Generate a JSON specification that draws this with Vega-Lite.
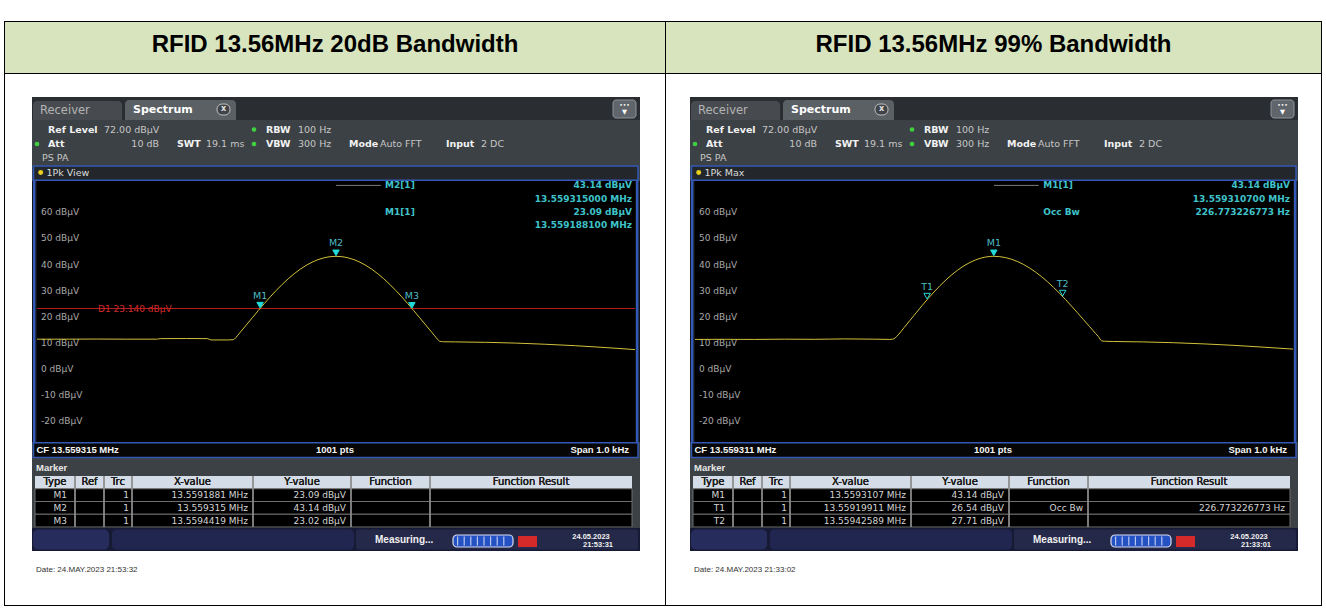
{
"$schema":"https://vega.github.io/schema/vega-lite/v6.json",
"padding":{"left":4,"top":21,"right":4,"bottom":2},
"background":"#ffffff",
"config":{"view":{"stroke":null},"text":{"font":"DejaVu Sans"}},
"datasets":{
"traceA":[{"f":13.558815,"v":11.4},{"f":13.558865,"v":11.4},{"f":13.558915,"v":11.45},{"f":13.558965,"v":11.4},{"f":13.559015,"v":11.4},{"f":13.559021,"v":11.6},{"f":13.559065,"v":11.65},{"f":13.5591,"v":11.6},{"f":13.559106,"v":11.1},{"f":13.559135,"v":11.1},{"f":13.559143,"v":11.2},{"f":13.559145,"v":11.4},{"f":13.55915,"v":12.7},{"f":13.559155,"v":14.08},{"f":13.559165,"v":16.83},{"f":13.559175,"v":19.59},{"f":13.559185,"v":22.33},{"f":13.559195,"v":25.01},{"f":13.559205,"v":27.6},{"f":13.559215,"v":30.06},{"f":13.559225,"v":32.38},{"f":13.559235,"v":34.52},{"f":13.559245,"v":36.45},{"f":13.559255,"v":38.18},{"f":13.559265,"v":39.66},{"f":13.559275,"v":40.9},{"f":13.559285,"v":41.87},{"f":13.559295,"v":42.57},{"f":13.559305,"v":43.0},{"f":13.559315,"v":43.14},{"f":13.559325,"v":43.0},{"f":13.559335,"v":42.57},{"f":13.559345,"v":41.87},{"f":13.559355,"v":40.9},{"f":13.559365,"v":39.66},{"f":13.559375,"v":38.18},{"f":13.559385,"v":36.45},{"f":13.559395,"v":34.52},{"f":13.559405,"v":32.38},{"f":13.559415,"v":30.06},{"f":13.559425,"v":27.6},{"f":13.559435,"v":25.01},{"f":13.559445,"v":22.33},{"f":13.559455,"v":19.59},{"f":13.559465,"v":16.83},{"f":13.559475,"v":14.08},{"f":13.55948,"v":12.7},{"f":13.559485,"v":11.3},{"f":13.559488,"v":10.6},{"f":13.559495,"v":10.4},{"f":13.559515,"v":10.35},{"f":13.559565,"v":10.2},{"f":13.559615,"v":9.9},{"f":13.559665,"v":9.45},{"f":13.559715,"v":8.9},{"f":13.559765,"v":8.2},{"f":13.559815,"v":7.4}],
"traceB":[{"f":13.558811,"v":11.3},{"f":13.5588607,"v":11.35},{"f":13.5589107,"v":11.3},{"f":13.5589607,"v":11.4},{"f":13.5590107,"v":11.35},{"f":13.5590607,"v":11.5},{"f":13.5591107,"v":11.4},{"f":13.5591357,"v":11.3},{"f":13.5591417,"v":11.4},{"f":13.5591457,"v":11.9},{"f":13.5591507,"v":13.03},{"f":13.5591607,"v":15.83},{"f":13.5591707,"v":18.65},{"f":13.5591807,"v":21.47},{"f":13.5591907,"v":24.24},{"f":13.5592007,"v":26.92},{"f":13.5592107,"v":29.48},{"f":13.5592207,"v":31.89},{"f":13.5592307,"v":34.12},{"f":13.5592407,"v":36.14},{"f":13.5592507,"v":37.94},{"f":13.5592607,"v":39.5},{"f":13.5592707,"v":40.79},{"f":13.5592807,"v":41.81},{"f":13.5592907,"v":42.55},{"f":13.5593007,"v":42.99},{"f":13.5593107,"v":43.14},{"f":13.5593207,"v":43.01},{"f":13.5593307,"v":42.63},{"f":13.5593407,"v":41.99},{"f":13.5593507,"v":41.11},{"f":13.5593607,"v":39.99},{"f":13.5593707,"v":38.64},{"f":13.5593807,"v":37.07},{"f":13.5593907,"v":35.31},{"f":13.5594007,"v":33.35},{"f":13.5594107,"v":31.22},{"f":13.5594207,"v":28.95},{"f":13.5594307,"v":26.56},{"f":13.5594407,"v":24.05},{"f":13.5594507,"v":21.49},{"f":13.5594607,"v":18.87},{"f":13.5594707,"v":16.25},{"f":13.5594807,"v":13.64},{"f":13.5594857,"v":12.35},{"f":13.5594907,"v":10.8},{"f":13.5594957,"v":10.6},{"f":13.5595107,"v":10.5},{"f":13.5595607,"v":10.35},{"f":13.5596107,"v":10.05},{"f":13.5596607,"v":9.6},{"f":13.5597107,"v":9.05},{"f":13.5597607,"v":8.35},{"f":13.559811,"v":7.6}],
"markersA":[{"m":"M1","k":"M","f":13.5591881,"v":23.09},{"m":"M2","k":"M","f":13.559315,"v":43.14},{"m":"M3","k":"M","f":13.5594419,"v":23.02}],
"markersB":[{"m":"M1","k":"M","f":13.5593107,"v":43.14},{"m":"T1","k":"T","f":13.55919911,"v":26.54},{"m":"T2","k":"T","f":13.55942589,"v":27.71}],
"ylabels":[{"v":60,"t":"60 dBµV"},{"v":50,"t":"50 dBµV"},{"v":40,"t":"40 dBµV"},{"v":30,"t":"30 dBµV"},{"v":20,"t":"20 dBµV"},{"v":10,"t":"10 dBµV"},{"v":0,"t":"0 dBµV"},{"v":-10,"t":"-10 dBµV"},{"v":-20,"t":"-20 dBµV"}],
"readoutA":[{"line":1,"name":"M2[1]","val":"43.14 dBµV"},{"line":2,"name":"","val":"13.559315000 MHz"},{"line":3,"name":"M1[1]","val":"23.09 dBµV"},{"line":4,"name":"","val":"13.559188100 MHz"}],
"readoutB":[{"line":1,"name":"M1[1]","val":"43.14 dBµV"},{"line":2,"name":"","val":"13.559310700 MHz"},{"line":3,"name":"Occ Bw","val":"226.773226773 Hz"}],
"tableA":[{"r":"1","Type":"M1","Trc":"1","X":"13.5591881 MHz","Y":"23.09 dBµV","Fn":"","Res":""},{"r":"2","Type":"M2","Trc":"1","X":"13.559315 MHz","Y":"43.14 dBµV","Fn":"","Res":""},{"r":"3","Type":"M3","Trc":"1","X":"13.5594419 MHz","Y":"23.02 dBµV","Fn":"","Res":""}],
"tableB":[{"r":"1","Type":"M1","Trc":"1","X":"13.5593107 MHz","Y":"43.14 dBµV","Fn":"","Res":""},{"r":"2","Type":"T1","Trc":"1","X":"13.55919911 MHz","Y":"26.54 dBµV","Fn":"Occ Bw","Res":"226.773226773 Hz"},{"r":"3","Type":"T2","Trc":"1","X":"13.55942589 MHz","Y":"27.71 dBµV","Fn":"","Res":""}]
},
"spacing":0,
"vconcat":[
{"width":1318,"height":1,"view":{"fill":"#000000"},"data":{"values":[{}]},"mark":{"type":"text","text":"","fontSize":1,"clip":true}},
{"spacing":0,"hconcat":[
{"width":1,"height":583,"view":{"fill":"#000000"},"data":{"values":[{}]},"mark":{"type":"text","text":"","fontSize":1,"clip":true}},
{"spacing":0,"vconcat":[
{"width":660,"height":51,"view":{"fill":"#d7e4bd"},"data":{"values":[{"t":"RFID 13.56MHz 20dB Bandwidth"}]},"mark":{"type":"text","font":"Liberation Sans","fontWeight":"bold","fontSize":24,"fill":"#000000","dy":-3},"encoding":{"text":{"field":"t"}}},
{"width":660,"height":1,"view":{"fill":"#000000"},"data":{"values":[{}]},"mark":{"type":"text","text":"","fontSize":1,"clip":true}},
{"spacing":0,"hconcat":[
{"width":27,"height":531,"data":{"values":[{}]},"mark":{"type":"text","text":"","fontSize":1,"clip":true}},
{"spacing":0,"vconcat":[
{"width":608,"height":23,"data":{"values":[{}]},"mark":{"type":"text","text":"","fontSize":1,"clip":true}},
{"width":608,"height":23,"view":{"fill":"#2a2d31"},"data":{"values":[{}]},"layer":[
{"mark":{"type":"rect","fill":"#474b50","cornerRadiusTopLeft":4,"cornerRadiusTopRight":4},"encoding":{"x":{"datum":1,"type":"quantitative","scale":{"domain":[0,608],"nice":false,"zero":false},"axis":null},"x2":{"datum":90},"y":{"datum":4,"type":"quantitative","scale":{"domain":[0,23],"nice":false,"zero":false,"reverse":true},"axis":null},"y2":{"datum":23}}},
{"mark":{"type":"rect","fill":"#5b6065","cornerRadiusTopLeft":4,"cornerRadiusTopRight":4},"encoding":{"x":{"datum":93,"type":"quantitative","axis":null},"x2":{"datum":204},"y":{"datum":3,"type":"quantitative","axis":null},"y2":{"datum":23}}},
{"mark":{"type":"text","align":"left","fontSize":11.5,"fill":"#b4b4b4"},"encoding":{"x":{"datum":8,"type":"quantitative","axis":null},"y":{"datum":13.5,"type":"quantitative","axis":null},"text":{"value":"Receiver"}}},
{"mark":{"type":"text","align":"left","fontSize":11,"fontWeight":"bold","fill":"#ffffff"},"encoding":{"x":{"datum":101,"type":"quantitative","axis":null},"y":{"datum":13,"type":"quantitative","axis":null},"text":{"value":"Spectrum"}}},
{"mark":{"type":"rect","fill":"#404448","stroke":"#c0c0c0","strokeWidth":1,"cornerRadius":5},"encoding":{"x":{"datum":185,"type":"quantitative","axis":null},"x2":{"datum":198},"y":{"datum":7,"type":"quantitative","axis":null},"y2":{"datum":18}}},
{"mark":{"type":"text","fontSize":8,"fontWeight":"bold","fill":"#e0e0e0"},"encoding":{"x":{"datum":191.5,"type":"quantitative","axis":null},"y":{"datum":12.3,"type":"quantitative","axis":null},"text":{"value":"x"}}},
{"mark":{"type":"rect","fill":"#5f656b","stroke":"#8d949a","strokeWidth":1,"cornerRadius":3},"encoding":{"x":{"datum":581,"type":"quantitative","axis":null},"x2":{"datum":604},"y":{"datum":3,"type":"quantitative","axis":null},"y2":{"datum":21}}},
{"mark":{"type":"text","fontSize":6,"fill":"#ffffff"},"encoding":{"x":{"datum":592.5,"type":"quantitative","axis":null},"y":{"datum":8,"type":"quantitative","axis":null},"text":{"value":"•••"}}},
{"mark":{"type":"text","fontSize":6.5,"fill":"#ffffff"},"encoding":{"x":{"datum":592.5,"type":"quantitative","axis":null},"y":{"datum":15,"type":"quantitative","axis":null},"text":{"value":"▼"}}}
]},
{"width":608,"height":45,"view":{"fill":"#3c4145"},"data":{"values":[{}]},"layer":[
{"mark":{"type":"point","shape":"circle","filled":true,"fill":"#3fcf3f","size":22,"opacity":1},"encoding":{"x":{"datum":5,"type":"quantitative","scale":{"domain":[0,608],"nice":false,"zero":false},"axis":null},"y":{"datum":24,"type":"quantitative","scale":{"domain":[0,45],"nice":false,"zero":false,"reverse":true},"axis":null}}},
{"mark":{"type":"point","shape":"circle","filled":true,"fill":"#3fcf3f","size":22,"opacity":1},"encoding":{"x":{"datum":222,"type":"quantitative","axis":null},"y":{"datum":9.5,"type":"quantitative","axis":null}}},
{"mark":{"type":"point","shape":"circle","filled":true,"fill":"#3fcf3f","size":22,"opacity":1},"encoding":{"x":{"datum":222,"type":"quantitative","axis":null},"y":{"datum":24,"type":"quantitative","axis":null}}},
{"mark":{"type":"text","align":"left","fontSize":9.5,"fontWeight":"bold","fill":"#f2f2f2"},"encoding":{"x":{"datum":16,"type":"quantitative","axis":null},"y":{"datum":9.5,"type":"quantitative","axis":null},"text":{"value":"Ref Level"}}},
{"mark":{"type":"text","align":"left","fontSize":9.5,"fontWeight":"bold","fill":"#f2f2f2"},"encoding":{"x":{"datum":16,"type":"quantitative","axis":null},"y":{"datum":24,"type":"quantitative","axis":null},"text":{"value":"Att"}}},
{"mark":{"type":"text","align":"left","fontSize":9.5,"fontWeight":"bold","fill":"#f2f2f2"},"encoding":{"x":{"datum":145,"type":"quantitative","axis":null},"y":{"datum":24,"type":"quantitative","axis":null},"text":{"value":"SWT"}}},
{"mark":{"type":"text","align":"left","fontSize":9.5,"fontWeight":"bold","fill":"#f2f2f2"},"encoding":{"x":{"datum":234,"type":"quantitative","axis":null},"y":{"datum":9.5,"type":"quantitative","axis":null},"text":{"value":"RBW"}}},
{"mark":{"type":"text","align":"left","fontSize":9.5,"fontWeight":"bold","fill":"#f2f2f2"},"encoding":{"x":{"datum":234,"type":"quantitative","axis":null},"y":{"datum":24,"type":"quantitative","axis":null},"text":{"value":"VBW"}}},
{"mark":{"type":"text","align":"left","fontSize":9.5,"fontWeight":"bold","fill":"#f2f2f2"},"encoding":{"x":{"datum":317,"type":"quantitative","axis":null},"y":{"datum":24,"type":"quantitative","axis":null},"text":{"value":"Mode"}}},
{"mark":{"type":"text","align":"left","fontSize":9.5,"fontWeight":"bold","fill":"#f2f2f2"},"encoding":{"x":{"datum":414,"type":"quantitative","axis":null},"y":{"datum":24,"type":"quantitative","axis":null},"text":{"value":"Input"}}},
{"mark":{"type":"text","align":"left","fontSize":9.5,"fill":"#c6c6c6"},"encoding":{"x":{"datum":72,"type":"quantitative","axis":null},"y":{"datum":9.5,"type":"quantitative","axis":null},"text":{"value":"72.00 dBµV"}}},
{"mark":{"type":"text","align":"right","fontSize":9.5,"fill":"#c6c6c6"},"encoding":{"x":{"datum":127,"type":"quantitative","axis":null},"y":{"datum":24,"type":"quantitative","axis":null},"text":{"value":"10 dB"}}},
{"mark":{"type":"text","align":"left","fontSize":9.5,"fill":"#c6c6c6"},"encoding":{"x":{"datum":174,"type":"quantitative","axis":null},"y":{"datum":24,"type":"quantitative","axis":null},"text":{"value":"19.1 ms"}}},
{"mark":{"type":"text","align":"left","fontSize":9.5,"fill":"#c6c6c6"},"encoding":{"x":{"datum":266,"type":"quantitative","axis":null},"y":{"datum":9.5,"type":"quantitative","axis":null},"text":{"value":"100 Hz"}}},
{"mark":{"type":"text","align":"left","fontSize":9.5,"fill":"#c6c6c6"},"encoding":{"x":{"datum":266,"type":"quantitative","axis":null},"y":{"datum":24,"type":"quantitative","axis":null},"text":{"value":"300 Hz"}}},
{"mark":{"type":"text","align":"left","fontSize":9.5,"fill":"#c6c6c6"},"encoding":{"x":{"datum":348,"type":"quantitative","axis":null},"y":{"datum":24,"type":"quantitative","axis":null},"text":{"value":"Auto FFT"}}},
{"mark":{"type":"text","align":"left","fontSize":9.5,"fill":"#c6c6c6"},"encoding":{"x":{"datum":449,"type":"quantitative","axis":null},"y":{"datum":24,"type":"quantitative","axis":null},"text":{"value":"2 DC"}}},
{"mark":{"type":"text","align":"left","fontSize":9.5,"fill":"#c6c6c6"},"encoding":{"x":{"datum":10,"type":"quantitative","axis":null},"y":{"datum":37.5,"type":"quantitative","axis":null},"text":{"value":"PS PA"}}}
]},
{"width":608,"height":16,"view":{"fill":"#3c4145"},"data":{"values":[{"t":"1Pk View"}]},"layer":[
{"mark":{"type":"rect","fill":"#23272b","stroke":"#3358b5","strokeWidth":1.5},"encoding":{"x":{"datum":1.5,"type":"quantitative","scale":{"domain":[0,608],"nice":false,"zero":false},"axis":null},"x2":{"datum":606},"y":{"datum":1,"type":"quantitative","scale":{"domain":[0,16],"nice":false,"zero":false,"reverse":true},"axis":null},"y2":{"datum":15.2}}},
{"mark":{"type":"point","shape":"circle","filled":true,"fill":"#e8d21e","size":24,"opacity":1},"encoding":{"x":{"datum":8.7,"type":"quantitative","axis":null},"y":{"datum":7.5,"type":"quantitative","axis":null}}},
{"mark":{"type":"text","align":"left","fontSize":9.5,"fill":"#dcdcdc"},"encoding":{"x":{"datum":14.5,"type":"quantitative","axis":null},"y":{"datum":7.5,"type":"quantitative","axis":null},"text":{"field":"t"}}}
]},
{"spacing":0,"hconcat":[
{"width":5,"height":261,"view":{"fill":"#121416"},"data":{"values":[{}]},"mark":{"type":"rule","color":"#3358b5","strokeWidth":2.5,"clip":true},"encoding":{"x":{"datum":2.2,"type":"quantitative","scale":{"domain":[0,5],"nice":false,"zero":false},"axis":null}}},
{"width":598,"height":261,"view":{"fill":"#000000"},
"resolve":{"scale":{"y":"independent"}},
"layer":[
{"layer":[
{"data":{"values":[{}]},"mark":{"type":"rect","fill":"#000000","clip":true},"encoding":{
"x":{"datum":13.55939,"type":"quantitative","scale":{"domain":[13.558815,13.559815],"nice":false,"zero":false},"axis":{"grid":true,"values":[13.558915,13.559015,13.559115,13.559215,13.559315,13.559415,13.559515,13.559615,13.559715],"labels":false,"ticks":false,"domain":false,"title":null,"gridColor":"#7c7c7c","gridWidth":1,"gridOpacity":1}},
"x2":{"datum":13.559815},
"y":{"datum":51,"type":"quantitative","scale":{"domain":[-28,72],"nice":false,"zero":false},"axis":{"grid":true,"values":[-20,-10,0,10,20,30,40,50,60,71.8],"labels":false,"ticks":false,"domain":false,"title":null,"gridColor":"#7c7c7c","gridWidth":1,"gridOpacity":1}},
"y2":{"datum":72}}},
{"data":{"name":"ylabels"},"mark":{"type":"text","align":"left","fontSize":9,"fill":"#000000","stroke":"#000000","strokeWidth":4},"encoding":{"x":{"datum":13.5588217,"type":"quantitative","axis":null},"y":{"field":"v","type":"quantitative","axis":null},"text":{"field":"t"}}},
{"data":{"name":"ylabels"},"mark":{"type":"text","align":"left","fontSize":9,"fill":"#a9a9a9"},"encoding":{"x":{"datum":13.5588217,"type":"quantitative","axis":null},"y":{"field":"v","type":"quantitative","axis":null},"text":{"field":"t"}}},
{"data":{"values":[{}]},"mark":{"type":"rule","color":"#b41c1c","strokeWidth":1,"clip":true},"encoding":{"y":{"datum":23.14,"type":"quantitative","axis":null}}},
{"data":{"values":[{"t":"D1 23.140 dBµV"}]},"mark":{"type":"text","align":"left","fontSize":9,"fill":"#d42a2a"},"encoding":{"x":{"datum":13.558917,"type":"quantitative","axis":null},"y":{"datum":23.14,"type":"quantitative","axis":null},"text":{"field":"t"}}},
{"data":{"name":"traceA"},"mark":{"type":"line","color":"#d2c13b","strokeWidth":1,"interpolate":"monotone","clip":true},"encoding":{"x":{"field":"f","type":"quantitative","axis":null},"y":{"field":"v","type":"quantitative","axis":null}}},
{"data":{"name":"markersA"},"mark":{"type":"point","shape":"triangle-down","size":42,"stroke":"#22dada","strokeWidth":1,"yOffset":-3.5,"opacity":1},"encoding":{"x":{"field":"f","type":"quantitative","axis":null},"y":{"field":"v","type":"quantitative","axis":null},"fill":{"condition":{"test":"datum.k == 'M'","value":"#22dada"},"value":"transparent"}}},
{"data":{"name":"markersA"},"mark":{"type":"text","fontSize":9.5,"fill":"#4cbcc4","dy":-13},"encoding":{"x":{"field":"f","type":"quantitative","axis":null},"y":{"field":"v","type":"quantitative","axis":null},"text":{"field":"m"}}}
]},
{"data":{"name":"readoutA"},"layer":[
{"transform":[{"filter":"datum.line == 1"}],"mark":{"type":"rule","color":"#7c7c7c","strokeWidth":1},"encoding":{"x":{"datum":13.559315,"type":"quantitative","axis":null},"x2":{"datum":13.55939},"y":{"field":"line","type":"quantitative","scale":{"domain":[0.67,20.22],"nice":false,"zero":false,"reverse":true},"axis":null}}},
{"mark":{"type":"text","align":"left","fontSize":9,"fontWeight":"bold","fill":"#3fc3cb","clip":true},"encoding":{"x":{"datum":13.559397,"type":"quantitative","axis":null},"y":{"field":"line","type":"quantitative","axis":null},"text":{"field":"name"}}},
{"mark":{"type":"text","align":"right","fontSize":9,"fontWeight":"bold","fill":"#3fc3cb","clip":true},"encoding":{"x":{"datum":13.55981,"type":"quantitative","axis":null},"y":{"field":"line","type":"quantitative","axis":null},"text":{"field":"val"}}}
]}
]},
{"width":5,"height":261,"view":{"fill":"#121416"},"data":{"values":[{}]},"mark":{"type":"rule","color":"#3358b5","strokeWidth":2.5,"clip":true},"encoding":{"x":{"datum":2.2,"type":"quantitative","scale":{"domain":[0,5],"nice":false,"zero":false},"axis":null}}}
]},
{"width":608,"height":17,"view":{"fill":"#3c4145"},"data":{"values":[{"cf":"CF 13.559315 MHz","pts":"1001 pts","span":"Span 1.0 kHz"}]},"layer":[
{"mark":{"type":"rect","fill":"#060606","stroke":"#3358b5","strokeWidth":1.5},"encoding":{"x":{"datum":1.5,"type":"quantitative","scale":{"domain":[0,608],"nice":false,"zero":false},"axis":null},"x2":{"datum":606},"y":{"datum":0.8,"type":"quantitative","scale":{"domain":[0,17],"nice":false,"zero":false,"reverse":true},"axis":null},"y2":{"datum":15.5}}},
{"mark":{"type":"text","align":"left","font":"Liberation Sans","fontSize":9.5,"fontWeight":"bold","fill":"#f4f4f4"},"encoding":{"x":{"datum":4.5,"type":"quantitative","axis":null},"y":{"datum":8,"type":"quantitative","axis":null},"text":{"field":"cf"}}},
{"mark":{"type":"text","align":"center","font":"Liberation Sans","fontSize":9.5,"fontWeight":"bold","fill":"#f4f4f4"},"encoding":{"x":{"datum":303,"type":"quantitative","axis":null},"y":{"datum":8,"type":"quantitative","axis":null},"text":{"field":"pts"}}},
{"mark":{"type":"text","align":"right","font":"Liberation Sans","fontSize":9.5,"fontWeight":"bold","fill":"#f4f4f4"},"encoding":{"x":{"datum":597,"type":"quantitative","axis":null},"y":{"datum":8,"type":"quantitative","axis":null},"text":{"field":"span"}}}
]},
{"width":608,"height":17,"view":{"fill":"#3c4145"},"data":{"values":[{}]},"mark":{"type":"text","align":"left","font":"Liberation Sans","fontSize":9.5,"fontWeight":"bold","fill":"#e8e8e8"},"encoding":{"x":{"datum":4,"type":"quantitative","scale":{"domain":[0,608],"nice":false,"zero":false},"axis":null},"y":{"datum":9,"type":"quantitative","scale":{"domain":[0,17],"nice":false,"zero":false,"reverse":true},"axis":null},"text":{"value":"Marker"}}},
{"width":608,"height":51,"view":{"fill":"#3c4145"},"data":{"name":"tableA"},"layer":[
{"mark":{"type":"rect","fill":"#d4dde7"},"encoding":{"x":{"datum":3,"type":"quantitative","scale":{"domain":[0,608],"nice":false,"zero":false},"axis":null},"x2":{"datum":600},"y":{"datum":"h","type":"nominal","scale":{"type":"band","domain":["h","1","2","3"],"paddingInner":0,"paddingOuter":0},"axis":null}}},
{"mark":{"type":"rect","fill":"#000000","stroke":"#6e6e6e","strokeWidth":1,"clip":true},"encoding":{"x":{"datum":3,"type":"quantitative","axis":null},"x2":{"datum":600},"y":{"field":"r","type":"nominal","axis":null}}},
{"mark":{"type":"rule","color":"#8c8c8c","strokeWidth":1,"clip":true},"encoding":{"x":{"datum":43,"type":"quantitative","axis":null}}},
{"mark":{"type":"rule","color":"#8c8c8c","strokeWidth":1,"clip":true},"encoding":{"x":{"datum":72,"type":"quantitative","axis":null}}},
{"mark":{"type":"rule","color":"#8c8c8c","strokeWidth":1,"clip":true},"encoding":{"x":{"datum":100,"type":"quantitative","axis":null}}},
{"mark":{"type":"rule","color":"#8c8c8c","strokeWidth":1,"clip":true},"encoding":{"x":{"datum":221,"type":"quantitative","axis":null}}},
{"mark":{"type":"rule","color":"#8c8c8c","strokeWidth":1,"clip":true},"encoding":{"x":{"datum":319,"type":"quantitative","axis":null}}},
{"mark":{"type":"rule","color":"#8c8c8c","strokeWidth":1,"clip":true},"encoding":{"x":{"datum":398,"type":"quantitative","axis":null}}},
{"mark":{"type":"text","fontSize":10,"fill":"#1e1e1e"},"encoding":{"x":{"datum":23,"type":"quantitative","axis":null},"y":{"datum":"h","type":"nominal","axis":null},"text":{"value":"Type"}}},
{"mark":{"type":"text","fontSize":10,"fill":"#1e1e1e"},"encoding":{"x":{"datum":57.5,"type":"quantitative","axis":null},"y":{"datum":"h","type":"nominal","axis":null},"text":{"value":"Ref"}}},
{"mark":{"type":"text","fontSize":10,"fill":"#1e1e1e"},"encoding":{"x":{"datum":86,"type":"quantitative","axis":null},"y":{"datum":"h","type":"nominal","axis":null},"text":{"value":"Trc"}}},
{"mark":{"type":"text","fontSize":10,"fill":"#1e1e1e"},"encoding":{"x":{"datum":160.5,"type":"quantitative","axis":null},"y":{"datum":"h","type":"nominal","axis":null},"text":{"value":"X-value"}}},
{"mark":{"type":"text","fontSize":10,"fill":"#1e1e1e"},"encoding":{"x":{"datum":270,"type":"quantitative","axis":null},"y":{"datum":"h","type":"nominal","axis":null},"text":{"value":"Y-value"}}},
{"mark":{"type":"text","fontSize":10,"fill":"#1e1e1e"},"encoding":{"x":{"datum":358.5,"type":"quantitative","axis":null},"y":{"datum":"h","type":"nominal","axis":null},"text":{"value":"Function"}}},
{"mark":{"type":"text","fontSize":10,"fill":"#1e1e1e"},"encoding":{"x":{"datum":499,"type":"quantitative","axis":null},"y":{"datum":"h","type":"nominal","axis":null},"text":{"value":"Function Result"}}},
{"mark":{"type":"text","align":"right","fontSize":9,"fill":"#d4d4d4"},"encoding":{"x":{"datum":35,"type":"quantitative","axis":null},"y":{"field":"r","type":"nominal","axis":null},"text":{"field":"Type"}}},
{"mark":{"type":"text","align":"right","fontSize":9,"fill":"#d4d4d4"},"encoding":{"x":{"datum":97,"type":"quantitative","axis":null},"y":{"field":"r","type":"nominal","axis":null},"text":{"field":"Trc"}}},
{"mark":{"type":"text","align":"right","fontSize":9,"fill":"#d4d4d4"},"encoding":{"x":{"datum":216,"type":"quantitative","axis":null},"y":{"field":"r","type":"nominal","axis":null},"text":{"field":"X"}}},
{"mark":{"type":"text","align":"right","fontSize":9,"fill":"#d4d4d4"},"encoding":{"x":{"datum":314,"type":"quantitative","axis":null},"y":{"field":"r","type":"nominal","axis":null},"text":{"field":"Y"}}},
{"mark":{"type":"text","align":"right","fontSize":9,"fill":"#d4d4d4"},"encoding":{"x":{"datum":393,"type":"quantitative","axis":null},"y":{"field":"r","type":"nominal","axis":null},"text":{"field":"Fn"}}},
{"mark":{"type":"text","align":"right","fontSize":9,"fill":"#d4d4d4"},"encoding":{"x":{"datum":595,"type":"quantitative","axis":null},"y":{"field":"r","type":"nominal","axis":null},"text":{"field":"Res"}}}
]},
{"width":608,"height":1,"view":{"fill":"#3c4145"},"data":{"values":[{}]},"mark":{"type":"text","text":"","fontSize":1,"clip":true}},
{"width":608,"height":23,"view":{"fill":"#161a34"},"data":{"values":[{"d":"24.05.2023","t":"21:53:31"}]},"layer":[
{"mark":{"type":"rect","fill":"#262c5c","cornerRadius":5},"encoding":{"x":{"datum":1,"type":"quantitative","scale":{"domain":[0,608],"nice":false,"zero":false},"axis":null},"x2":{"datum":77},"y":{"datum":1.5,"type":"quantitative","scale":{"domain":[0,23],"nice":false,"zero":false,"reverse":true},"axis":null},"y2":{"datum":21.5}}},
{"mark":{"type":"rect","fill":"#20264f","cornerRadius":4},"encoding":{"x":{"datum":80,"type":"quantitative","axis":null},"x2":{"datum":322},"y":{"datum":1.5,"type":"quantitative","axis":null},"y2":{"datum":21.5}}},
{"mark":{"type":"rect","fill":"#242949","cornerRadius":2},"encoding":{"x":{"datum":324,"type":"quantitative","axis":null},"x2":{"datum":606},"y":{"datum":1.5,"type":"quantitative","axis":null},"y2":{"datum":21.5}}},
{"mark":{"type":"text","align":"left","font":"Liberation Sans","fontSize":10,"fontWeight":"bold","fill":"#f0f0f0"},"encoding":{"x":{"datum":343,"type":"quantitative","axis":null},"y":{"datum":11.5,"type":"quantitative","axis":null},"text":{"value":"Measuring..."}}},
{"mark":{"type":"rect","fill":"#2451c4","stroke":"#d8dcf0","strokeWidth":1.2,"cornerRadius":4},"encoding":{"x":{"datum":421,"type":"quantitative","axis":null},"x2":{"datum":481},"y":{"datum":7,"type":"quantitative","axis":null},"y2":{"datum":19}}},
{"mark":{"type":"rule","color":"#b9c7ef","strokeWidth":9,"strokeDash":[1.2,5.4]},"encoding":{"x":{"datum":425,"type":"quantitative","axis":null},"x2":{"datum":477},"y":{"datum":13,"type":"quantitative","axis":null}}},
{"mark":{"type":"rect","fill":"#d42a2a"},"encoding":{"x":{"datum":486,"type":"quantitative","axis":null},"x2":{"datum":505},"y":{"datum":8,"type":"quantitative","axis":null},"y2":{"datum":19}}},
{"mark":{"type":"text","font":"Liberation Sans","fontSize":7.5,"fontWeight":"bold","fill":"#f0f0f0"},"encoding":{"x":{"datum":559,"type":"quantitative","axis":null},"y":{"datum":8.5,"type":"quantitative","axis":null},"text":{"field":"d"}}},
{"mark":{"type":"text","align":"right","font":"Liberation Sans","fontSize":7.5,"fontWeight":"bold","fill":"#f0f0f0"},"encoding":{"x":{"datum":581,"type":"quantitative","axis":null},"y":{"datum":17,"type":"quantitative","axis":null},"text":{"field":"t"}}}
]},
{"width":608,"height":54,"data":{"values":[{"d":"Date: 24.MAY.2023 21:53:32"}]},"mark":{"type":"text","align":"left","font":"Liberation Sans","fontSize":8,"fill":"#333333"},"encoding":{"x":{"datum":4,"type":"quantitative","scale":{"domain":[0,608],"nice":false,"zero":false},"axis":null},"y":{"datum":19,"type":"quantitative","scale":{"domain":[0,54],"nice":false,"zero":false,"reverse":true},"axis":null},"text":{"field":"d"}}}
]},
{"width":25,"height":531,"data":{"values":[{}]},"mark":{"type":"text","text":"","fontSize":1,"clip":true}}
]}
]},
{"width":1,"height":583,"view":{"fill":"#000000"},"data":{"values":[{}]},"mark":{"type":"text","text":"","fontSize":1,"clip":true}},
{"spacing":0,"vconcat":[
{"width":655,"height":51,"view":{"fill":"#d7e4bd"},"data":{"values":[{"t":"RFID 13.56MHz 99% Bandwidth"}]},"mark":{"type":"text","font":"Liberation Sans","fontWeight":"bold","fontSize":24,"fill":"#000000","dy":-3},"encoding":{"text":{"field":"t"}}},
{"width":655,"height":1,"view":{"fill":"#000000"},"data":{"values":[{}]},"mark":{"type":"text","text":"","fontSize":1,"clip":true}},
{"spacing":0,"hconcat":[
{"width":24,"height":531,"data":{"values":[{}]},"mark":{"type":"text","text":"","fontSize":1,"clip":true}},
{"spacing":0,"vconcat":[
{"width":608,"height":23,"data":{"values":[{}]},"mark":{"type":"text","text":"","fontSize":1,"clip":true}},
{"width":608,"height":23,"view":{"fill":"#2a2d31"},"data":{"values":[{}]},"layer":[
{"mark":{"type":"rect","fill":"#474b50","cornerRadiusTopLeft":4,"cornerRadiusTopRight":4},"encoding":{"x":{"datum":1,"type":"quantitative","scale":{"domain":[0,608],"nice":false,"zero":false},"axis":null},"x2":{"datum":90},"y":{"datum":4,"type":"quantitative","scale":{"domain":[0,23],"nice":false,"zero":false,"reverse":true},"axis":null},"y2":{"datum":23}}},
{"mark":{"type":"rect","fill":"#5b6065","cornerRadiusTopLeft":4,"cornerRadiusTopRight":4},"encoding":{"x":{"datum":93,"type":"quantitative","axis":null},"x2":{"datum":204},"y":{"datum":3,"type":"quantitative","axis":null},"y2":{"datum":23}}},
{"mark":{"type":"text","align":"left","fontSize":11.5,"fill":"#b4b4b4"},"encoding":{"x":{"datum":8,"type":"quantitative","axis":null},"y":{"datum":13.5,"type":"quantitative","axis":null},"text":{"value":"Receiver"}}},
{"mark":{"type":"text","align":"left","fontSize":11,"fontWeight":"bold","fill":"#ffffff"},"encoding":{"x":{"datum":101,"type":"quantitative","axis":null},"y":{"datum":13,"type":"quantitative","axis":null},"text":{"value":"Spectrum"}}},
{"mark":{"type":"rect","fill":"#404448","stroke":"#c0c0c0","strokeWidth":1,"cornerRadius":5},"encoding":{"x":{"datum":185,"type":"quantitative","axis":null},"x2":{"datum":198},"y":{"datum":7,"type":"quantitative","axis":null},"y2":{"datum":18}}},
{"mark":{"type":"text","fontSize":8,"fontWeight":"bold","fill":"#e0e0e0"},"encoding":{"x":{"datum":191.5,"type":"quantitative","axis":null},"y":{"datum":12.3,"type":"quantitative","axis":null},"text":{"value":"x"}}},
{"mark":{"type":"rect","fill":"#5f656b","stroke":"#8d949a","strokeWidth":1,"cornerRadius":3},"encoding":{"x":{"datum":581,"type":"quantitative","axis":null},"x2":{"datum":604},"y":{"datum":3,"type":"quantitative","axis":null},"y2":{"datum":21}}},
{"mark":{"type":"text","fontSize":6,"fill":"#ffffff"},"encoding":{"x":{"datum":592.5,"type":"quantitative","axis":null},"y":{"datum":8,"type":"quantitative","axis":null},"text":{"value":"•••"}}},
{"mark":{"type":"text","fontSize":6.5,"fill":"#ffffff"},"encoding":{"x":{"datum":592.5,"type":"quantitative","axis":null},"y":{"datum":15,"type":"quantitative","axis":null},"text":{"value":"▼"}}}
]},
{"width":608,"height":45,"view":{"fill":"#3c4145"},"data":{"values":[{}]},"layer":[
{"mark":{"type":"point","shape":"circle","filled":true,"fill":"#3fcf3f","size":22,"opacity":1},"encoding":{"x":{"datum":5,"type":"quantitative","scale":{"domain":[0,608],"nice":false,"zero":false},"axis":null},"y":{"datum":24,"type":"quantitative","scale":{"domain":[0,45],"nice":false,"zero":false,"reverse":true},"axis":null}}},
{"mark":{"type":"point","shape":"circle","filled":true,"fill":"#3fcf3f","size":22,"opacity":1},"encoding":{"x":{"datum":222,"type":"quantitative","axis":null},"y":{"datum":9.5,"type":"quantitative","axis":null}}},
{"mark":{"type":"point","shape":"circle","filled":true,"fill":"#3fcf3f","size":22,"opacity":1},"encoding":{"x":{"datum":222,"type":"quantitative","axis":null},"y":{"datum":24,"type":"quantitative","axis":null}}},
{"mark":{"type":"text","align":"left","fontSize":9.5,"fontWeight":"bold","fill":"#f2f2f2"},"encoding":{"x":{"datum":16,"type":"quantitative","axis":null},"y":{"datum":9.5,"type":"quantitative","axis":null},"text":{"value":"Ref Level"}}},
{"mark":{"type":"text","align":"left","fontSize":9.5,"fontWeight":"bold","fill":"#f2f2f2"},"encoding":{"x":{"datum":16,"type":"quantitative","axis":null},"y":{"datum":24,"type":"quantitative","axis":null},"text":{"value":"Att"}}},
{"mark":{"type":"text","align":"left","fontSize":9.5,"fontWeight":"bold","fill":"#f2f2f2"},"encoding":{"x":{"datum":145,"type":"quantitative","axis":null},"y":{"datum":24,"type":"quantitative","axis":null},"text":{"value":"SWT"}}},
{"mark":{"type":"text","align":"left","fontSize":9.5,"fontWeight":"bold","fill":"#f2f2f2"},"encoding":{"x":{"datum":234,"type":"quantitative","axis":null},"y":{"datum":9.5,"type":"quantitative","axis":null},"text":{"value":"RBW"}}},
{"mark":{"type":"text","align":"left","fontSize":9.5,"fontWeight":"bold","fill":"#f2f2f2"},"encoding":{"x":{"datum":234,"type":"quantitative","axis":null},"y":{"datum":24,"type":"quantitative","axis":null},"text":{"value":"VBW"}}},
{"mark":{"type":"text","align":"left","fontSize":9.5,"fontWeight":"bold","fill":"#f2f2f2"},"encoding":{"x":{"datum":317,"type":"quantitative","axis":null},"y":{"datum":24,"type":"quantitative","axis":null},"text":{"value":"Mode"}}},
{"mark":{"type":"text","align":"left","fontSize":9.5,"fontWeight":"bold","fill":"#f2f2f2"},"encoding":{"x":{"datum":414,"type":"quantitative","axis":null},"y":{"datum":24,"type":"quantitative","axis":null},"text":{"value":"Input"}}},
{"mark":{"type":"text","align":"left","fontSize":9.5,"fill":"#c6c6c6"},"encoding":{"x":{"datum":72,"type":"quantitative","axis":null},"y":{"datum":9.5,"type":"quantitative","axis":null},"text":{"value":"72.00 dBµV"}}},
{"mark":{"type":"text","align":"right","fontSize":9.5,"fill":"#c6c6c6"},"encoding":{"x":{"datum":127,"type":"quantitative","axis":null},"y":{"datum":24,"type":"quantitative","axis":null},"text":{"value":"10 dB"}}},
{"mark":{"type":"text","align":"left","fontSize":9.5,"fill":"#c6c6c6"},"encoding":{"x":{"datum":174,"type":"quantitative","axis":null},"y":{"datum":24,"type":"quantitative","axis":null},"text":{"value":"19.1 ms"}}},
{"mark":{"type":"text","align":"left","fontSize":9.5,"fill":"#c6c6c6"},"encoding":{"x":{"datum":266,"type":"quantitative","axis":null},"y":{"datum":9.5,"type":"quantitative","axis":null},"text":{"value":"100 Hz"}}},
{"mark":{"type":"text","align":"left","fontSize":9.5,"fill":"#c6c6c6"},"encoding":{"x":{"datum":266,"type":"quantitative","axis":null},"y":{"datum":24,"type":"quantitative","axis":null},"text":{"value":"300 Hz"}}},
{"mark":{"type":"text","align":"left","fontSize":9.5,"fill":"#c6c6c6"},"encoding":{"x":{"datum":348,"type":"quantitative","axis":null},"y":{"datum":24,"type":"quantitative","axis":null},"text":{"value":"Auto FFT"}}},
{"mark":{"type":"text","align":"left","fontSize":9.5,"fill":"#c6c6c6"},"encoding":{"x":{"datum":449,"type":"quantitative","axis":null},"y":{"datum":24,"type":"quantitative","axis":null},"text":{"value":"2 DC"}}},
{"mark":{"type":"text","align":"left","fontSize":9.5,"fill":"#c6c6c6"},"encoding":{"x":{"datum":10,"type":"quantitative","axis":null},"y":{"datum":37.5,"type":"quantitative","axis":null},"text":{"value":"PS PA"}}}
]},
{"width":608,"height":16,"view":{"fill":"#3c4145"},"data":{"values":[{"t":"1Pk Max"}]},"layer":[
{"mark":{"type":"rect","fill":"#23272b","stroke":"#3358b5","strokeWidth":1.5},"encoding":{"x":{"datum":1.5,"type":"quantitative","scale":{"domain":[0,608],"nice":false,"zero":false},"axis":null},"x2":{"datum":606},"y":{"datum":1,"type":"quantitative","scale":{"domain":[0,16],"nice":false,"zero":false,"reverse":true},"axis":null},"y2":{"datum":15.2}}},
{"mark":{"type":"point","shape":"circle","filled":true,"fill":"#e8d21e","size":24,"opacity":1},"encoding":{"x":{"datum":8.7,"type":"quantitative","axis":null},"y":{"datum":7.5,"type":"quantitative","axis":null}}},
{"mark":{"type":"text","align":"left","fontSize":9.5,"fill":"#dcdcdc"},"encoding":{"x":{"datum":14.5,"type":"quantitative","axis":null},"y":{"datum":7.5,"type":"quantitative","axis":null},"text":{"field":"t"}}}
]},
{"spacing":0,"hconcat":[
{"width":5,"height":261,"view":{"fill":"#121416"},"data":{"values":[{}]},"mark":{"type":"rule","color":"#3358b5","strokeWidth":2.5,"clip":true},"encoding":{"x":{"datum":2.2,"type":"quantitative","scale":{"domain":[0,5],"nice":false,"zero":false},"axis":null}}},
{"width":598,"height":261,"view":{"fill":"#000000"},
"resolve":{"scale":{"y":"independent"}},
"layer":[
{"layer":[
{"data":{"values":[{}]},"mark":{"type":"rect","fill":"#000000","clip":true},"encoding":{
"x":{"datum":13.559386,"type":"quantitative","scale":{"domain":[13.558811,13.559811],"nice":false,"zero":false},"axis":{"grid":true,"values":[13.558911,13.559011,13.559111,13.559211,13.559311,13.559411,13.559511,13.559611,13.559711],"labels":false,"ticks":false,"domain":false,"title":null,"gridColor":"#7c7c7c","gridWidth":1,"gridOpacity":1}},
"x2":{"datum":13.559811},
"y":{"datum":57,"type":"quantitative","scale":{"domain":[-28,72],"nice":false,"zero":false},"axis":{"grid":true,"values":[-20,-10,0,10,20,30,40,50,60,71.8],"labels":false,"ticks":false,"domain":false,"title":null,"gridColor":"#7c7c7c","gridWidth":1,"gridOpacity":1}},
"y2":{"datum":72}}},
{"data":{"name":"ylabels"},"mark":{"type":"text","align":"left","fontSize":9,"fill":"#000000","stroke":"#000000","strokeWidth":4},"encoding":{"x":{"datum":13.5588177,"type":"quantitative","axis":null},"y":{"field":"v","type":"quantitative","axis":null},"text":{"field":"t"}}},
{"data":{"name":"ylabels"},"mark":{"type":"text","align":"left","fontSize":9,"fill":"#a9a9a9"},"encoding":{"x":{"datum":13.5588177,"type":"quantitative","axis":null},"y":{"field":"v","type":"quantitative","axis":null},"text":{"field":"t"}}},
{"data":{"name":"traceB"},"mark":{"type":"line","color":"#d2c13b","strokeWidth":1,"interpolate":"monotone","clip":true},"encoding":{"x":{"field":"f","type":"quantitative","axis":null},"y":{"field":"v","type":"quantitative","axis":null}}},
{"data":{"name":"markersB"},"mark":{"type":"point","shape":"triangle-down","size":42,"stroke":"#22dada","strokeWidth":1,"yOffset":-3.5,"opacity":1},"encoding":{"x":{"field":"f","type":"quantitative","axis":null},"y":{"field":"v","type":"quantitative","axis":null},"fill":{"condition":{"test":"datum.k == 'M'","value":"#22dada"},"value":"transparent"}}},
{"data":{"name":"markersB"},"mark":{"type":"text","fontSize":9.5,"fill":"#4cbcc4","dy":-13},"encoding":{"x":{"field":"f","type":"quantitative","axis":null},"y":{"field":"v","type":"quantitative","axis":null},"text":{"field":"m"}}}
]},
{"data":{"name":"readoutB"},"layer":[
{"transform":[{"filter":"datum.line == 1"}],"mark":{"type":"rule","color":"#7c7c7c","strokeWidth":1},"encoding":{"x":{"datum":13.559311,"type":"quantitative","axis":null},"x2":{"datum":13.559386},"y":{"field":"line","type":"quantitative","scale":{"domain":[0.67,20.22],"nice":false,"zero":false,"reverse":true},"axis":null}}},
{"mark":{"type":"text","align":"left","fontSize":9,"fontWeight":"bold","fill":"#3fc3cb","clip":true},"encoding":{"x":{"datum":13.5593934,"type":"quantitative","axis":null},"y":{"field":"line","type":"quantitative","axis":null},"text":{"field":"name"}}},
{"mark":{"type":"text","align":"right","fontSize":9,"fontWeight":"bold","fill":"#3fc3cb","clip":true},"encoding":{"x":{"datum":13.559806,"type":"quantitative","axis":null},"y":{"field":"line","type":"quantitative","axis":null},"text":{"field":"val"}}}
]}
]},
{"width":5,"height":261,"view":{"fill":"#121416"},"data":{"values":[{}]},"mark":{"type":"rule","color":"#3358b5","strokeWidth":2.5,"clip":true},"encoding":{"x":{"datum":2.2,"type":"quantitative","scale":{"domain":[0,5],"nice":false,"zero":false},"axis":null}}}
]},
{"width":608,"height":17,"view":{"fill":"#3c4145"},"data":{"values":[{"cf":"CF 13.559311 MHz","pts":"1001 pts","span":"Span 1.0 kHz"}]},"layer":[
{"mark":{"type":"rect","fill":"#060606","stroke":"#3358b5","strokeWidth":1.5},"encoding":{"x":{"datum":1.5,"type":"quantitative","scale":{"domain":[0,608],"nice":false,"zero":false},"axis":null},"x2":{"datum":606},"y":{"datum":0.8,"type":"quantitative","scale":{"domain":[0,17],"nice":false,"zero":false,"reverse":true},"axis":null},"y2":{"datum":15.5}}},
{"mark":{"type":"text","align":"left","font":"Liberation Sans","fontSize":9.5,"fontWeight":"bold","fill":"#f4f4f4"},"encoding":{"x":{"datum":4.5,"type":"quantitative","axis":null},"y":{"datum":8,"type":"quantitative","axis":null},"text":{"field":"cf"}}},
{"mark":{"type":"text","align":"center","font":"Liberation Sans","fontSize":9.5,"fontWeight":"bold","fill":"#f4f4f4"},"encoding":{"x":{"datum":303,"type":"quantitative","axis":null},"y":{"datum":8,"type":"quantitative","axis":null},"text":{"field":"pts"}}},
{"mark":{"type":"text","align":"right","font":"Liberation Sans","fontSize":9.5,"fontWeight":"bold","fill":"#f4f4f4"},"encoding":{"x":{"datum":597,"type":"quantitative","axis":null},"y":{"datum":8,"type":"quantitative","axis":null},"text":{"field":"span"}}}
]},
{"width":608,"height":17,"view":{"fill":"#3c4145"},"data":{"values":[{}]},"mark":{"type":"text","align":"left","font":"Liberation Sans","fontSize":9.5,"fontWeight":"bold","fill":"#e8e8e8"},"encoding":{"x":{"datum":4,"type":"quantitative","scale":{"domain":[0,608],"nice":false,"zero":false},"axis":null},"y":{"datum":9,"type":"quantitative","scale":{"domain":[0,17],"nice":false,"zero":false,"reverse":true},"axis":null},"text":{"value":"Marker"}}},
{"width":608,"height":51,"view":{"fill":"#3c4145"},"data":{"name":"tableB"},"layer":[
{"mark":{"type":"rect","fill":"#d4dde7"},"encoding":{"x":{"datum":3,"type":"quantitative","scale":{"domain":[0,608],"nice":false,"zero":false},"axis":null},"x2":{"datum":600},"y":{"datum":"h","type":"nominal","scale":{"type":"band","domain":["h","1","2","3"],"paddingInner":0,"paddingOuter":0},"axis":null}}},
{"mark":{"type":"rect","fill":"#000000","stroke":"#6e6e6e","strokeWidth":1,"clip":true},"encoding":{"x":{"datum":3,"type":"quantitative","axis":null},"x2":{"datum":600},"y":{"field":"r","type":"nominal","axis":null}}},
{"mark":{"type":"rule","color":"#8c8c8c","strokeWidth":1,"clip":true},"encoding":{"x":{"datum":43,"type":"quantitative","axis":null}}},
{"mark":{"type":"rule","color":"#8c8c8c","strokeWidth":1,"clip":true},"encoding":{"x":{"datum":72,"type":"quantitative","axis":null}}},
{"mark":{"type":"rule","color":"#8c8c8c","strokeWidth":1,"clip":true},"encoding":{"x":{"datum":100,"type":"quantitative","axis":null}}},
{"mark":{"type":"rule","color":"#8c8c8c","strokeWidth":1,"clip":true},"encoding":{"x":{"datum":221,"type":"quantitative","axis":null}}},
{"mark":{"type":"rule","color":"#8c8c8c","strokeWidth":1,"clip":true},"encoding":{"x":{"datum":319,"type":"quantitative","axis":null}}},
{"mark":{"type":"rule","color":"#8c8c8c","strokeWidth":1,"clip":true},"encoding":{"x":{"datum":398,"type":"quantitative","axis":null}}},
{"mark":{"type":"text","fontSize":10,"fill":"#1e1e1e"},"encoding":{"x":{"datum":23,"type":"quantitative","axis":null},"y":{"datum":"h","type":"nominal","axis":null},"text":{"value":"Type"}}},
{"mark":{"type":"text","fontSize":10,"fill":"#1e1e1e"},"encoding":{"x":{"datum":57.5,"type":"quantitative","axis":null},"y":{"datum":"h","type":"nominal","axis":null},"text":{"value":"Ref"}}},
{"mark":{"type":"text","fontSize":10,"fill":"#1e1e1e"},"encoding":{"x":{"datum":86,"type":"quantitative","axis":null},"y":{"datum":"h","type":"nominal","axis":null},"text":{"value":"Trc"}}},
{"mark":{"type":"text","fontSize":10,"fill":"#1e1e1e"},"encoding":{"x":{"datum":160.5,"type":"quantitative","axis":null},"y":{"datum":"h","type":"nominal","axis":null},"text":{"value":"X-value"}}},
{"mark":{"type":"text","fontSize":10,"fill":"#1e1e1e"},"encoding":{"x":{"datum":270,"type":"quantitative","axis":null},"y":{"datum":"h","type":"nominal","axis":null},"text":{"value":"Y-value"}}},
{"mark":{"type":"text","fontSize":10,"fill":"#1e1e1e"},"encoding":{"x":{"datum":358.5,"type":"quantitative","axis":null},"y":{"datum":"h","type":"nominal","axis":null},"text":{"value":"Function"}}},
{"mark":{"type":"text","fontSize":10,"fill":"#1e1e1e"},"encoding":{"x":{"datum":499,"type":"quantitative","axis":null},"y":{"datum":"h","type":"nominal","axis":null},"text":{"value":"Function Result"}}},
{"mark":{"type":"text","align":"right","fontSize":9,"fill":"#d4d4d4"},"encoding":{"x":{"datum":35,"type":"quantitative","axis":null},"y":{"field":"r","type":"nominal","axis":null},"text":{"field":"Type"}}},
{"mark":{"type":"text","align":"right","fontSize":9,"fill":"#d4d4d4"},"encoding":{"x":{"datum":97,"type":"quantitative","axis":null},"y":{"field":"r","type":"nominal","axis":null},"text":{"field":"Trc"}}},
{"mark":{"type":"text","align":"right","fontSize":9,"fill":"#d4d4d4"},"encoding":{"x":{"datum":216,"type":"quantitative","axis":null},"y":{"field":"r","type":"nominal","axis":null},"text":{"field":"X"}}},
{"mark":{"type":"text","align":"right","fontSize":9,"fill":"#d4d4d4"},"encoding":{"x":{"datum":314,"type":"quantitative","axis":null},"y":{"field":"r","type":"nominal","axis":null},"text":{"field":"Y"}}},
{"mark":{"type":"text","align":"right","fontSize":9,"fill":"#d4d4d4"},"encoding":{"x":{"datum":393,"type":"quantitative","axis":null},"y":{"field":"r","type":"nominal","axis":null},"text":{"field":"Fn"}}},
{"mark":{"type":"text","align":"right","fontSize":9,"fill":"#d4d4d4"},"encoding":{"x":{"datum":595,"type":"quantitative","axis":null},"y":{"field":"r","type":"nominal","axis":null},"text":{"field":"Res"}}}
]},
{"width":608,"height":1,"view":{"fill":"#3c4145"},"data":{"values":[{}]},"mark":{"type":"text","text":"","fontSize":1,"clip":true}},
{"width":608,"height":23,"view":{"fill":"#161a34"},"data":{"values":[{"d":"24.05.2023","t":"21:33:01"}]},"layer":[
{"mark":{"type":"rect","fill":"#262c5c","cornerRadius":5},"encoding":{"x":{"datum":1,"type":"quantitative","scale":{"domain":[0,608],"nice":false,"zero":false},"axis":null},"x2":{"datum":77},"y":{"datum":1.5,"type":"quantitative","scale":{"domain":[0,23],"nice":false,"zero":false,"reverse":true},"axis":null},"y2":{"datum":21.5}}},
{"mark":{"type":"rect","fill":"#20264f","cornerRadius":4},"encoding":{"x":{"datum":80,"type":"quantitative","axis":null},"x2":{"datum":322},"y":{"datum":1.5,"type":"quantitative","axis":null},"y2":{"datum":21.5}}},
{"mark":{"type":"rect","fill":"#242949","cornerRadius":2},"encoding":{"x":{"datum":324,"type":"quantitative","axis":null},"x2":{"datum":606},"y":{"datum":1.5,"type":"quantitative","axis":null},"y2":{"datum":21.5}}},
{"mark":{"type":"text","align":"left","font":"Liberation Sans","fontSize":10,"fontWeight":"bold","fill":"#f0f0f0"},"encoding":{"x":{"datum":343,"type":"quantitative","axis":null},"y":{"datum":11.5,"type":"quantitative","axis":null},"text":{"value":"Measuring..."}}},
{"mark":{"type":"rect","fill":"#2451c4","stroke":"#d8dcf0","strokeWidth":1.2,"cornerRadius":4},"encoding":{"x":{"datum":421,"type":"quantitative","axis":null},"x2":{"datum":481},"y":{"datum":7,"type":"quantitative","axis":null},"y2":{"datum":19}}},
{"mark":{"type":"rule","color":"#b9c7ef","strokeWidth":9,"strokeDash":[1.2,5.4]},"encoding":{"x":{"datum":425,"type":"quantitative","axis":null},"x2":{"datum":477},"y":{"datum":13,"type":"quantitative","axis":null}}},
{"mark":{"type":"rect","fill":"#d42a2a"},"encoding":{"x":{"datum":486,"type":"quantitative","axis":null},"x2":{"datum":505},"y":{"datum":8,"type":"quantitative","axis":null},"y2":{"datum":19}}},
{"mark":{"type":"text","font":"Liberation Sans","fontSize":7.5,"fontWeight":"bold","fill":"#f0f0f0"},"encoding":{"x":{"datum":559,"type":"quantitative","axis":null},"y":{"datum":8.5,"type":"quantitative","axis":null},"text":{"field":"d"}}},
{"mark":{"type":"text","align":"right","font":"Liberation Sans","fontSize":7.5,"fontWeight":"bold","fill":"#f0f0f0"},"encoding":{"x":{"datum":581,"type":"quantitative","axis":null},"y":{"datum":17,"type":"quantitative","axis":null},"text":{"field":"t"}}}
]},
{"width":608,"height":54,"data":{"values":[{"d":"Date: 24.MAY.2023 21:33:02"}]},"mark":{"type":"text","align":"left","font":"Liberation Sans","fontSize":8,"fill":"#333333"},"encoding":{"x":{"datum":4,"type":"quantitative","scale":{"domain":[0,608],"nice":false,"zero":false},"axis":null},"y":{"datum":19,"type":"quantitative","scale":{"domain":[0,54],"nice":false,"zero":false,"reverse":true},"axis":null},"text":{"field":"d"}}}
]},
{"width":23,"height":531,"data":{"values":[{}]},"mark":{"type":"text","text":"","fontSize":1,"clip":true}}
]}
]},
{"width":1,"height":583,"view":{"fill":"#000000"},"data":{"values":[{}]},"mark":{"type":"text","text":"","fontSize":1,"clip":true}}
]},
{"width":1318,"height":1,"view":{"fill":"#000000"},"data":{"values":[{}]},"mark":{"type":"text","text":"","fontSize":1,"clip":true}}
]
}
